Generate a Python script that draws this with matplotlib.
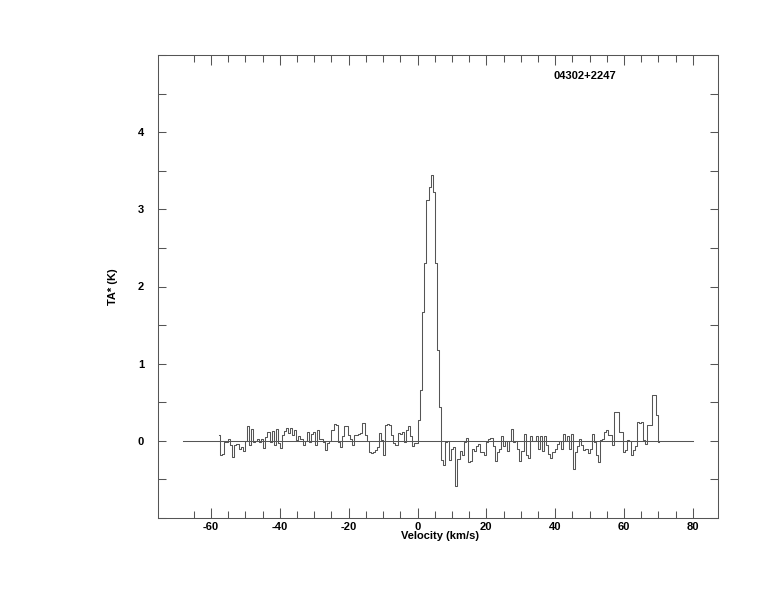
import numpy as np
import matplotlib
matplotlib.use("Agg")
import matplotlib.pyplot as plt
from matplotlib.ticker import MultipleLocator, FixedLocator

# Spectrum (TA* in K), channels of 0.6 km/s starting at -57.7 km/s
v_start = -57.7
dv = 0.6

# noise before the line, -57.7 .. -37.3 km/s
seg_blue_far = [
    0.07, -0.19, -0.17, -0.02, -0.01, 0.02, -0.05, -0.21, -0.06, -0.04,
    -0.11, -0.08, -0.13, 0.0, 0.19, -0.05, 0.15, -0.02, 0.0, 0.02,
    -0.01, 0.02, -0.09, 0.05, 0.11, -0.02, 0.13, -0.06, 0.15, -0.03,
    -0.09, 0.07, 0.13, 0.17, 0.10,
]
# noise before the line, -37.1 .. 0 km/s
seg_blue_near = [
    0.16, 0.08, 0.14, 0.01, 0.06, 0.03, -0.05, 0.0, 0.11, -0.02,
    0.09, 0.12, -0.05, 0.14, 0.02, 0.03, -0.01, -0.12, -0.03, 0.0,
    0.14, 0.22, 0.21, -0.01, -0.08, 0.06, 0.19, 0.19, 0.08, 0.02,
    -0.05, 0.07, 0.08, 0.09, 0.10, 0.23, 0.08, 0.0, -0.15, -0.16,
    -0.14, -0.12, -0.08, 0.10, 0.01, -0.18, 0.21, 0.22, 0.21, 0.08,
    -0.03, -0.06, 0.1, 0.09, 0.11, -0.01, 0.14, 0.19, 0.06, -0.07,
    -0.03, -0.03,
]
# the emission line
seg_line = [0.27, 0.66, 1.67, 2.30, 3.12, 3.29, 3.44, 3.23, 2.30, 1.18, 0.44]
# after the line, up to ~70 km/s
seg_red = [
    -0.25, -0.31, -0.02, 0.0, -0.25, -0.1, -0.08, -0.59, -0.24, -0.13,
    -0.19, -0.02, 0.04, -0.28, -0.26,
    -0.11, -0.13, -0.07, -0.04, -0.15, -0.15, -0.19, -0.02, 0.02, 0.04,
    -0.07, -0.26, -0.15, -0.11, 0.06, -0.07, 0.0, -0.13, 0.0, 0.15,
    -0.02, 0.0, -0.11, -0.26, -0.13, 0.09, -0.19, -0.22, 0.06, 0.0,
    0.0, 0.06, -0.11, 0.06, -0.13, 0.06, -0.06, -0.17, -0.22, -0.15,
    -0.11, -0.04, 0.0, -0.11, 0.09, 0.0, 0.06, -0.11, 0.09, -0.37,
    -0.15, -0.07, 0.02,
    -0.05, -0.12, -0.1, -0.16, -0.1, 0.09, -0.01, -0.19, -0.27, 0.01,
    0.02, 0.11, 0.14, 0.08, 0.08, -0.05, 0.37, 0.37, 0.12, 0.11,
    -0.14, -0.12, 0.01, 0.0, -0.19, -0.12, -0.07, 0.24, 0.23, 0.24,
    0.01, -0.04, 0.21, 0.21, 0.6, 0.6, 0.34, -0.02,
]
baseline_v = [-68, 80]
source_name = "04302+2247"

ta = np.array(seg_blue_far + seg_blue_near + seg_line + seg_red)
vel = v_start + dv * np.arange(len(ta))

plt.rcParams["font.family"] = ["Liberation Sans", "DejaVu Sans"]
plt.rcParams["font.weight"] = "bold"
plt.rcParams["axes.unicode_minus"] = False

fig = plt.figure(figsize=(7.74, 6.12), dpi=100)
ax = fig.add_axes([158 / 774, 1 - 518 / 612, 560 / 774, 463 / 612])

line_col = "#555555"
ax.plot(baseline_v, [0, 0], color=line_col, lw=0.75)
ax.step(vel, ta, where="mid", color=line_col, lw=0.75)

ax.set_xlim(-75.4, 87.3)
ax.set_ylim(-1, 5)

ax.xaxis.set_major_locator(FixedLocator(np.arange(-60, 81, 20)))
ax.xaxis.set_minor_locator(FixedLocator(np.arange(-65, 81, 5)))
ax.yaxis.set_major_locator(FixedLocator([0, 1, 2, 3, 4]))
ax.yaxis.set_minor_locator(MultipleLocator(0.5))

ax.tick_params(which="both", direction="in", top=True, right=True,
               color=line_col, width=0.75, labelsize=8)
ax.tick_params(axis="x", which="major", length=7.5, pad=3)
ax.tick_params(axis="x", which="minor", length=5)
ax.tick_params(axis="y", which="major", length=6, pad=10)
ax.tick_params(axis="y", which="minor", length=5.5)
for lab in ax.get_xticklabels() + ax.get_yticklabels():
    lab.set_fontweight("bold")
for sp in ax.spines.values():
    sp.set_color(line_col)
    sp.set_linewidth(0.75)

fig.text(440 / 774, 1 - 536 / 612, "Velocity (km/s)", ha="center", va="center",
         fontsize=8, fontweight="bold")
fig.text(113 / 774, 1 - 287 / 612, "TA* (K)", ha="center", va="center",
         rotation=90, fontsize=8, fontweight="bold")
ax.text(0.7625, 0.955, source_name, transform=ax.transAxes, ha="center",
        va="center", fontsize=8, fontweight="bold")

fig.savefig("out.png", dpi=100)
